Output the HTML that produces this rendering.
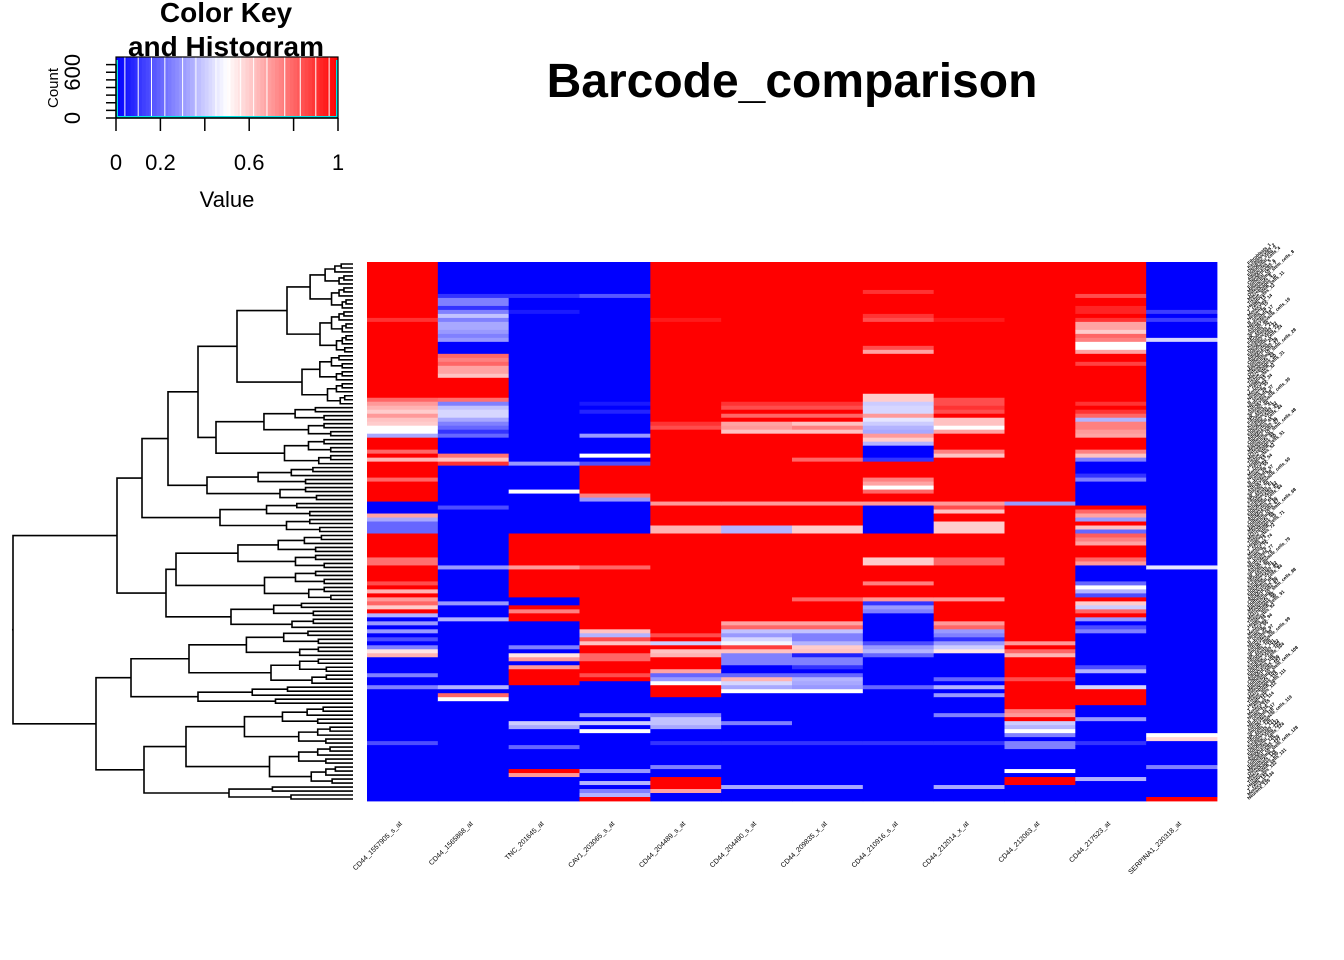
<!DOCTYPE html>
<html><head><meta charset="utf-8">
<style>
html,body{margin:0;padding:0;background:#fff;}
svg{display:block;font-family:"Liberation Sans",Arial,sans-serif;}
</style></head>
<body>
<svg id="chart" width="1344" height="960" viewBox="0 0 1344 960" xmlns="http://www.w3.org/2000/svg">
  <rect x="0" y="0" width="1344" height="960" fill="#fff"/>
  <text x="792" y="97" text-anchor="middle" font-size="48" font-weight="bold">Barcode_comparison</text>
  <g id="key">
    <text x="226" y="22" text-anchor="middle" font-size="28" font-weight="bold">Color Key</text>
    <text x="226" y="56" text-anchor="middle" font-size="28" font-weight="bold">and Histogram</text>
    <g id="keygrad"></g>
    <text x="227" y="207" text-anchor="middle" font-size="22">Value</text>
    <text transform="translate(58,88) rotate(-90)" text-anchor="middle" font-size="15">Count</text>
  </g>
  <g id="dendro"></g>
  <g id="heat"></g>
  <g id="collabels"></g>
  <g id="rowlabels"></g>
</svg>
<script>
// ---- data ----
const columnLabels = ["CD44_1557905_s_at","CD44_1565868_at","TNC_201645_at","CAV1_203065_s_at","CD44_204489_s_at","CD44_204490_s_at","CD44_209835_x_at","CD44_210916_s_at","CD44_212014_x_at","CD44_212063_at","CD44_217523_at","SERPINA1_230318_at"];
const rowCount = 135;
const columnDefaults = [1,0,0,0,1,1,1,1,1,1,1,0];
const col1Segs = [[14,14,0.9],[34,34,0.8],[35,35,0.7],[36,36,0.65],[37,37,0.6],[38,38,0.7],[39,39,0.62],[40,40,0.6],[41,42,0.5],[43,43,0.33],[47,47,0.8],[49,49,0.65],[54,54,0.8],[60,62,0],[63,63,0.68],[64,64,0.33],[65,67,0.2],[74,75,0.78],[80,80,0.85],[82,82,0.65],[84,84,0.7],[85,85,0.8],[86,86,0.6],[88,88,0.35],[89,89,0],[90,90,0.3],[91,91,0],[92,92,0.3],[93,93,0],[94,94,0.15],[95,95,0],[96,96,0.25],[97,97,0.55],[98,98,0.65],[99,134,0],[103,103,0.25],[106,106,0.25],[120,120,0.15]];
const col2Segs = [[8,8,0.1],[9,10,0.25],[11,11,0.1],[12,12,0.25],[13,13,0.38],[14,14,0.25],[15,16,0.33],[17,17,0.3],[18,18,0.25],[19,19,0.3],[23,23,0.8],[24,24,0.75],[25,25,0.8],[26,27,0.68],[28,28,0.62],[29,33,1],[34,34,0.78],[35,35,0.25],[36,36,0.38],[37,38,0.42],[39,39,0.33],[40,40,0.25],[41,41,0.2],[42,42,0.1],[43,43,0.2],[48,48,0.78],[49,49,0.62],[50,50,0.9],[61,61,0.15],[76,76,0.3],[85,85,0.3],[89,89,0.35],[106,106,0.35],[108,108,0.8],[109,109,0.5]];
const col3Segs = [[8,8,0.1],[12,12,0.05],[50,50,0.3],[57,57,0.5],[68,83,1],[76,76,0.7],[86,86,1],[87,87,0.75],[88,89,1],[96,96,0.25],[98,98,0.55],[99,99,0.7],[101,101,0.7],[102,105,1],[115,115,0.4],[116,116,0.33],[121,121,0.2],[127,127,1],[128,128,0.7]];
const col4Segs = [[8,8,0.17],[35,35,0.05],[37,37,0.07],[43,43,0.3],[48,48,0.5],[50,50,0.15],[51,57,1],[58,58,0.75],[59,59,0.3],[68,91,1],[76,76,0.8],[92,92,0.62],[93,93,0.35],[94,94,0.85],[95,95,0.62],[96,97,1],[98,99,0.8],[100,104,1],[103,103,0.85],[113,113,0.3],[115,115,0.4],[117,117,0.5],[127,127,0.3],[130,130,0.35],[132,132,0.25],[133,133,0.35],[134,134,1]];
const col5Segs = [[14,14,0.95],[40,40,0.9],[41,41,0.85],[60,60,0.7],[66,67,0.65],[93,93,0.85],[95,95,0.4],[97,97,0.62],[98,98,0.65],[102,102,0.68],[103,103,0.2],[104,104,0.3],[105,105,0.5],[109,134,0],[113,113,0.25],[114,115,0.38],[116,116,0.33],[120,120,0.1],[126,126,0.25],[129,131,1],[132,132,0.68]];
const col6Segs = [[35,35,0.9],[36,36,0.85],[38,38,0.8],[40,40,0.68],[41,41,0.7],[42,42,0.62],[60,60,0.7],[66,67,0.35],[90,90,0.68],[91,91,0.8],[92,92,0.38],[93,93,0.3],[94,94,0.42],[95,95,0.48],[96,96,0.88],[97,97,0.62],[98,100,0.25],[101,134,0],[103,103,0.2],[104,104,0.65],[105,105,0.42],[106,106,0.33],[107,107,0.5],[115,115,0.25],[120,120,0.1],[131,131,0.33]];
const col7Segs = [[35,35,0.9],[36,36,0.85],[38,38,0.8],[40,40,0.62],[41,41,0.75],[42,42,0.62],[49,49,0.8],[60,60,0.7],[66,67,0.6],[84,84,0.8],[90,90,0.68],[91,91,0.8],[92,92,0.38],[93,94,0.25],[95,95,0.35],[96,96,0.6],[97,97,0.62],[98,98,0.06],[99,100,0.25],[101,134,0],[101,101,0.1],[103,103,0.2],[104,104,0.35],[105,105,0.33],[106,106,0.3],[107,107,0.5],[120,120,0.1],[131,131,0.33]];
const col8Segs = [[7,7,0.9],[13,13,0.9],[14,14,0.85],[21,21,0.85],[22,22,0.68],[33,34,0.6],[35,35,0.4],[36,37,0.42],[38,38,0.7],[39,39,0.45],[40,40,0.4],[41,41,0.35],[42,42,0.33],[43,43,0.7],[44,44,0.6],[45,45,0.35],[46,48,0],[49,49,0.1],[54,54,0.75],[55,55,0.68],[56,56,0.5],[57,57,0.8],[60,60,0.7],[61,67,0],[74,75,0.6],[80,80,0.75],[84,84,0.7],[85,85,0.1],[86,86,0.3],[87,87,0.25],[88,134,0],[95,95,0.15],[96,96,0.3],[97,97,0.35],[98,98,0.2],[106,106,0.2],[120,120,0.1]];
const col9Segs = [[14,14,0.95],[34,35,0.85],[36,36,0.9],[37,37,0.85],[39,40,0.62],[41,41,0.5],[42,42,0.68],[47,47,0.75],[48,48,0.62],[60,60,0.7],[61,61,0.85],[62,62,0.62],[65,67,0.6],[74,75,0.8],[84,84,0.7],[90,90,0.7],[91,91,0.8],[92,92,0.3],[93,93,0.25],[94,94,0.1],[95,95,0.3],[96,96,0.4],[97,97,0.55],[98,134,0],[104,104,0.2],[106,106,0.35],[108,108,0.3],[113,113,0.25],[120,120,0.1],[131,131,0.33]];
const col10Segs = [[60,60,0.3],[95,95,0.7],[97,97,0.8],[98,98,0.65],[104,104,0.85],[112,112,0.75],[113,113,0.7],[115,115,0.4],[116,116,0.35],[117,117,0.5],[118,118,0.25],[119,119,0],[120,121,0.25],[122,134,0],[127,127,0.5],[129,130,1]];
const col11Segs = [[8,8,0.85],[11,12,0.93],[14,14,0.9],[15,16,0.68],[17,17,0.6],[18,18,0.8],[19,19,0.75],[20,21,0.5],[22,22,0.68],[25,25,0.87],[35,35,0.9],[37,37,0.9],[38,38,0.8],[39,39,0.35],[40,41,0.75],[42,42,0.7],[43,43,0.68],[47,47,0.75],[48,48,0.62],[49,49,0.25],[50,60,0],[53,53,0.1],[54,54,0.25],[62,62,0.8],[63,63,0.68],[64,64,0.3],[66,66,0.62],[67,67,0.2],[68,68,0.82],[69,69,0.75],[70,70,0.68],[74,74,0.8],[75,75,0.7],[76,79,0],[80,80,0.2],[81,81,0.5],[82,82,0.35],[83,83,0.15],[85,85,0.6],[86,86,0.4],[87,87,0.8],[89,89,0.3],[90,134,0],[91,91,0.15],[92,92,0.25],[101,101,0.15],[102,102,0.35],[106,106,0.42],[107,110,1],[114,114,0.3],[120,120,0.1],[129,129,0.35]];
const col12Segs = [[12,12,0.12],[14,14,0.12],[19,19,0.42],[76,76,0.45],[118,118,0.5],[119,119,0.58],[126,126,0.25],[134,134,1]];
const columnSegs = [col1Segs,col2Segs,col3Segs,col4Segs,col5Segs,col6Segs,col7Segs,col8Segs,col9Segs,col10Segs,col11Segs,col12Segs];
const keyTicks = [0,0.2,0.4,0.6,0.8,1];
const keyTickLabels = ["0","0.2","","0.6","","1"];
const countTicks = [0,100,200,300,400,500,600,700];
const countTickLabels = {0:"0",600:"600"};
const rowLabelNames = ["Fibroblasts","Endothelial_cells","Epithelial_cells","Macrophages","T_cells","B_cells","Smooth_muscle_cells","Keratinocytes","Adipocytes","Mesenchymal_stem_cells","Tissue_stem_cells","Monocytes","Neutrophils","NK_cells","Dendritic_cells","Chondrocytes","Osteoblasts","Hepatocytes","Neurons","Astrocytes"];

// ---- geometry ----
const NS = "http://www.w3.org/2000/svg";
const hx0 = 367, hx1 = 1217, hy0 = 262, hy1 = 801;
const colW = (hx1 - hx0) / columnLabels.length;
const rowH = (hy1 - hy0) / rowCount;
const xCol = i => hx0 + i * colW;
const yRow = r => hy0 + r * rowH;
function colorOf(v){
  v = Math.max(0, Math.min(1, v));
  if (v < 0.5){ const t = v/0.5, c = Math.round(255*t); return `rgb(${c},${c},255)`; }
  const t = (1-v)/0.5, c = Math.round(255*t); return `rgb(255,${c},${c})`;
}
function mk(tag, attrs, parent){
  const e = document.createElementNS(NS, tag);
  for (const k in attrs) e.setAttribute(k, attrs[k]);
  parent.appendChild(e); return e;
}

// ---- heatmap ----
const heat = document.getElementById('heat');
columnLabels.forEach((lab, c) => {
  const vals = new Array(rowCount).fill(columnDefaults[c]);
  columnSegs[c].forEach(s => { for (let r = s[0]; r <= s[1] && r < rowCount; r++) vals[r] = s[2]; });
  let r = 0;
  while (r < rowCount){
    let e = r; while (e + 1 < rowCount && vals[e+1] === vals[r]) e++;
    const rect = mk('rect', {x: xCol(c).toFixed(2), y: yRow(r).toFixed(2), width: (colW+0.4).toFixed(2), height: ((e-r+1)*rowH+0.4).toFixed(2), fill: colorOf(vals[r])}, heat);
    
    
    r = e + 1;
  }
});

// ---- column labels ----
const cl = document.getElementById('collabels');
columnLabels.forEach((lab, c) => {
  const cx = xCol(c) + colW/2, cy = 824;
  const t = mk('text', {x: cx, y: cy, 'text-anchor':'end', 'font-size':'7', transform:`rotate(-45 ${cx} ${cy})`}, cl);
  t.textContent = lab;
  
  
});

// ---- row labels ----
const rl = document.getElementById('rowlabels');
for (let r = 0; r < rowCount; r++){
  const x = 1249, y = yRow(r) + rowH/2 + 1;
  const t = mk('text', {x: x, y: y, 'font-size':'4.6', fill:'#000', 'font-weight':'bold', transform:`rotate(-42 ${x} ${y})`}, rl);
  t.textContent = rowLabelNames[(r*7) % rowLabelNames.length] + "_" + (r+1);
  
  
}

// ---- dendrogram ----
const leafX = 353;
function auto(n, x){
  if (n === 1) return {leaf:true};
  const k = Math.ceil(n/2);
  return {x:x, l:auto(k, x + (leafX-x)*0.35), r:auto(n-k, x + (leafX-x)*0.5)};
}
const node = (x, l, r) => ({x, l, r});
const tree = node(13,
  node(117,
    node(142,
      node(168,
        node(198, node(237, auto(23,287), auto(13,302)), auto(15,216)),
        auto(9,207)),
      auto(8,220)),
    node(166, auto(17,176), auto(7,231))),
  node(96,
    node(131, auto(14,189), auto(5,198)),
    node(144, auto(20,186), auto(4,229))));
const dg = document.getElementById('dendro');
let leafIdx = 0;
let dpath = "";
function lay(n){
  if (n.leaf){ const y = yRow(leafIdx) + rowH/2; leafIdx++; return {x:leafX, y}; }
  const a = lay(n.l), b = lay(n.r);
  dpath += `M${a.x},${a.y.toFixed(2)}H${n.x}V${b.y.toFixed(2)}H${b.x}`;
  return {x:n.x, y:(a.y+b.y)/2};
}
const rootPos = lay(tree);
dpath += `M${rootPos.x},${rootPos.y.toFixed(2)}H${rootPos.x-1}`;
const dp = mk('path', {d: dpath, fill:'none', stroke:'#000', 'stroke-width':'1.6'}, dg);



// ---- color key ----
const kg = document.getElementById('keygrad');
const kx0 = 116, kx1 = 338, ky0 = 57, ky1 = 118;
const kX = v => kx0 + v*(kx1-kx0);
const kY = c => ky1 - c/800*(ky1-ky0);
for (let i = 0; i < 60; i++){
  const v0 = i/60, v1 = (i+1)/60;
  const rc = mk('rect', {x:kX(v0).toFixed(2), y:ky0, width:(kX(v1)-kX(v0)+0.5).toFixed(2), height:ky1-ky0, fill:colorOf((v0+v1)/2)}, kg);
  
  
}
[0.04,0.1,0.16,0.22,0.3,0.36,0.45,0.51,0.56,0.62,0.68,0.76,0.83,0.9,0.96].forEach(v => {
  mk('line', {x1:kX(v), x2:kX(v), y1:ky0, y2:ky1, stroke:'#fff', 'stroke-width':'1'}, kg);
});
const hist = mk('path', {d:`M${kX(0)+1},${ky0+3}V${ky1-1}H${kX(1)-1}V${ky0+3}`, fill:'none', stroke:'#00e5e5', 'stroke-width':'2'}, kg);


mk('rect', {x:kx0, y:ky0, width:kx1-kx0, height:ky1-ky0, fill:'none', stroke:'#000', 'stroke-width':'1.2'}, kg);
mk('line', {x1:kx0, x2:kx1, y1:ky1, y2:ky1, stroke:'#000', 'stroke-width':'1.5'}, kg);
keyTicks.forEach((v, i) => {
  mk('line', {x1:kX(v), x2:kX(v), y1:ky1, y2:ky1+13, stroke:'#000', 'stroke-width':'1.5'}, kg);
  if (keyTickLabels[i]){
    const t = mk('text', {x:kX(v), y:170, 'text-anchor':'middle', 'font-size':'22'}, kg);
    t.textContent = keyTickLabels[i];
    
    
  }
});
mk('line', {x1:kx0, x2:kx0, y1:kY(0), y2:kY(700), stroke:'#000', 'stroke-width':'1.5'}, kg);
countTicks.forEach(c => {
  mk('line', {x1:kx0-10, x2:kx0, y1:kY(c), y2:kY(c), stroke:'#000', 'stroke-width':'1.5'}, kg);
  if (countTickLabels[c] !== undefined){
    const y = kY(c), x = 80;
    const t = mk('text', {x:x, y:y, 'text-anchor':'middle', 'font-size':'22', transform:`rotate(-90 ${x} ${y})`}, kg);
    t.textContent = countTickLabels[c];
    
    
  }
});
</script>
</body></html>
